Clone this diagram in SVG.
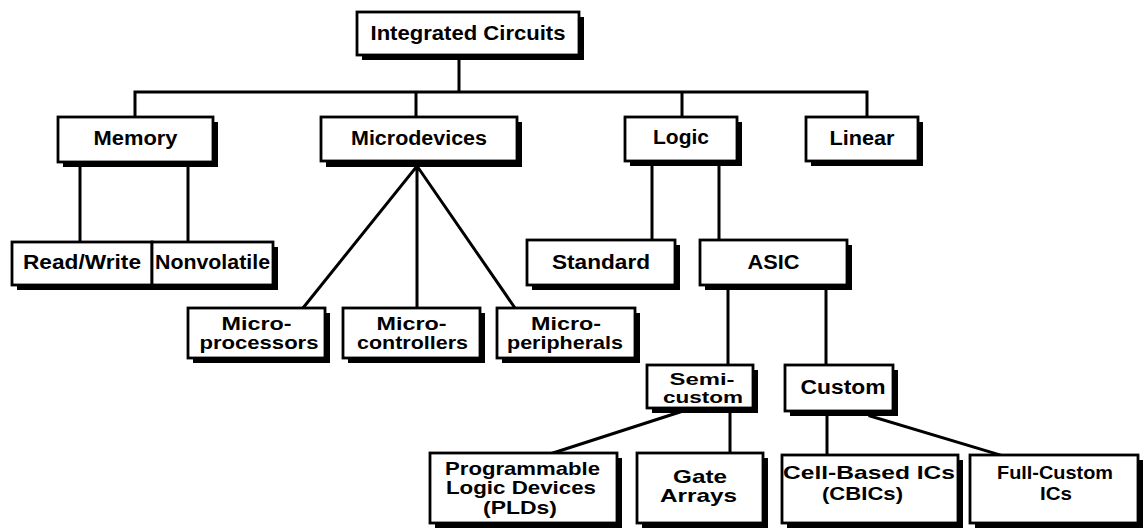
<svg xmlns="http://www.w3.org/2000/svg" width="1145" height="529" viewBox="0 0 1145 529">
<style>
.bx{fill:#fff;stroke:#000;stroke-width:2.8}
.sh{fill:#000}
.t{font-family:"Liberation Sans",Arial,sans-serif;font-weight:bold;font-size:19px;fill:#000;text-anchor:middle}
.l{font-size:20px}
.s{font-size:16px}
.c{stroke:#000;stroke-width:3;fill:none;stroke-linecap:square}
</style>
<rect width="1145" height="529" fill="#fff"/>
<g id="connectors" class="c">
<path d="M459 55V92M135 92H867M135 92V117M416 92V117M682 92V117M867 92V117"/>
<path d="M80 162V242M188 162V242"/>
<path d="M417 166L303 308M417 166V308M417 166L515 308"/>
<path d="M652 161V240M719 161V240"/>
<path d="M728 285V365M826 285V365"/>
<path d="M680 412L553 453M730 408V453"/>
<path d="M827 410V455M870 416L1000 455"/>
</g>
<g id="n-ic"><rect class="sh" x="362" y="17" width="222" height="43"/><rect class="bx" x="357" y="12" width="222" height="43"/><text class="t" x="468" y="40" style="font-size:21px" textLength="195" lengthAdjust="spacingAndGlyphs">Integrated Circuits</text></g>
<g id="n-memory"><rect class="sh" x="63" y="122" width="155" height="45"/><rect class="bx" x="58" y="117" width="155" height="45"/><text class="t l" x="135.5" y="145" textLength="84" lengthAdjust="spacingAndGlyphs">Memory</text></g>
<g id="n-microdevices"><rect class="sh" x="326" y="122" width="196" height="45"/><rect class="bx" x="321" y="117" width="196" height="44"/><text class="t l" x="419" y="145" textLength="136" lengthAdjust="spacingAndGlyphs">Microdevices</text></g>
<g id="n-logic"><rect class="sh" x="630" y="122" width="112" height="44"/><rect class="bx" x="625" y="117" width="112" height="44"/><text class="t l" x="681" y="144" textLength="56" lengthAdjust="spacingAndGlyphs">Logic</text></g>
<g id="n-linear"><rect class="sh" x="811" y="122" width="112" height="44"/><rect class="bx" x="806" y="117" width="112" height="44"/><text class="t l" x="862" y="145" textLength="65" lengthAdjust="spacingAndGlyphs">Linear</text></g>
<g id="n-readwrite"><rect class="sh" x="17" y="247" width="261" height="43"/><rect class="bx" x="12" y="242" width="140" height="43"/><text class="t l" x="82" y="269" textLength="118" lengthAdjust="spacingAndGlyphs">Read/Write</text></g>
<g id="n-nonvolatile"><rect class="bx" x="152" y="242" width="121" height="43"/><text class="t l" x="212.5" y="269" textLength="115" lengthAdjust="spacingAndGlyphs">Nonvolatile</text></g>
<g id="n-standard"><rect class="sh" x="532" y="245" width="148" height="45"/><rect class="bx" x="527" y="240" width="148" height="45"/><text class="t l" x="601" y="269" textLength="98" lengthAdjust="spacingAndGlyphs">Standard</text></g>
<g id="n-asic"><rect class="sh" x="705" y="245" width="147" height="45"/><rect class="bx" x="700" y="240" width="147" height="45"/><text class="t l" x="773.5" y="269" textLength="52" lengthAdjust="spacingAndGlyphs">ASIC</text></g>
<g id="n-microprocessors"><rect class="sh" x="193" y="313" width="137" height="50"/><rect class="bx" x="188" y="308" width="137" height="50"/><text class="t" x="256.5" y="330" textLength="70" lengthAdjust="spacingAndGlyphs">Micro-</text><text class="t" x="259" y="349" textLength="119" lengthAdjust="spacingAndGlyphs">processors</text></g>
<g id="n-microcontrollers"><rect class="sh" x="348" y="313" width="137" height="50"/><rect class="bx" x="343" y="308" width="137" height="50"/><text class="t" x="411.5" y="330" textLength="70" lengthAdjust="spacingAndGlyphs">Micro-</text><text class="t" x="412.5" y="349" textLength="111" lengthAdjust="spacingAndGlyphs">controllers</text></g>
<g id="n-microperipherals"><rect class="sh" x="502" y="313" width="138" height="50"/><rect class="bx" x="497" y="308" width="138" height="50"/><text class="t" x="566" y="330" textLength="70" lengthAdjust="spacingAndGlyphs">Micro-</text><text class="t" x="565" y="349" textLength="116" lengthAdjust="spacingAndGlyphs">peripherals</text></g>
<g id="n-semicustom"><rect class="sh" x="652" y="370" width="106" height="43"/><rect class="bx" x="647" y="365" width="106" height="43"/><text class="t s" x="702" y="385" textLength="65" lengthAdjust="spacingAndGlyphs">Semi-</text><text class="t s" x="703" y="403" textLength="80" lengthAdjust="spacingAndGlyphs">custom</text></g>
<g id="n-custom"><rect class="sh" x="790" y="370" width="108" height="46"/><rect class="bx" x="785" y="365" width="108" height="46"/><text class="t l" x="843" y="394" textLength="85" lengthAdjust="spacingAndGlyphs">Custom</text></g>
<g id="n-pld"><rect class="sh" x="435" y="458" width="187" height="70"/><rect class="bx" x="430" y="453" width="187" height="70"/><text class="t" x="522.5" y="475" textLength="155" lengthAdjust="spacingAndGlyphs">Programmable</text><text class="t" x="521" y="494" textLength="150" lengthAdjust="spacingAndGlyphs">Logic Devices</text><text class="t" x="520" y="514" textLength="74" lengthAdjust="spacingAndGlyphs">(PLDs)</text></g>
<g id="n-gatearrays"><rect class="sh" x="642" y="458" width="126" height="70"/><rect class="bx" x="637" y="453" width="126" height="70"/><text class="t" x="700" y="483" textLength="54" lengthAdjust="spacingAndGlyphs">Gate</text><text class="t" x="698.5" y="502" textLength="77" lengthAdjust="spacingAndGlyphs">Arrays</text></g>
<g id="n-cbic"><rect class="sh" x="787" y="460" width="176" height="68"/><rect class="bx" x="782" y="455" width="176" height="68"/><text class="t" x="869" y="479" textLength="172" lengthAdjust="spacingAndGlyphs">Cell-Based ICs</text><text class="t" x="862.5" y="500" textLength="81" lengthAdjust="spacingAndGlyphs">(CBICs)</text></g>
<g id="n-fullcustom"><rect class="sh" x="975" y="460" width="168" height="68"/><rect class="bx" x="970" y="455" width="168" height="68"/><text class="t" x="1055" y="479" textLength="116" lengthAdjust="spacingAndGlyphs">Full-Custom</text><text class="t" x="1056" y="500" textLength="32" lengthAdjust="spacingAndGlyphs">ICs</text></g>
</svg>
